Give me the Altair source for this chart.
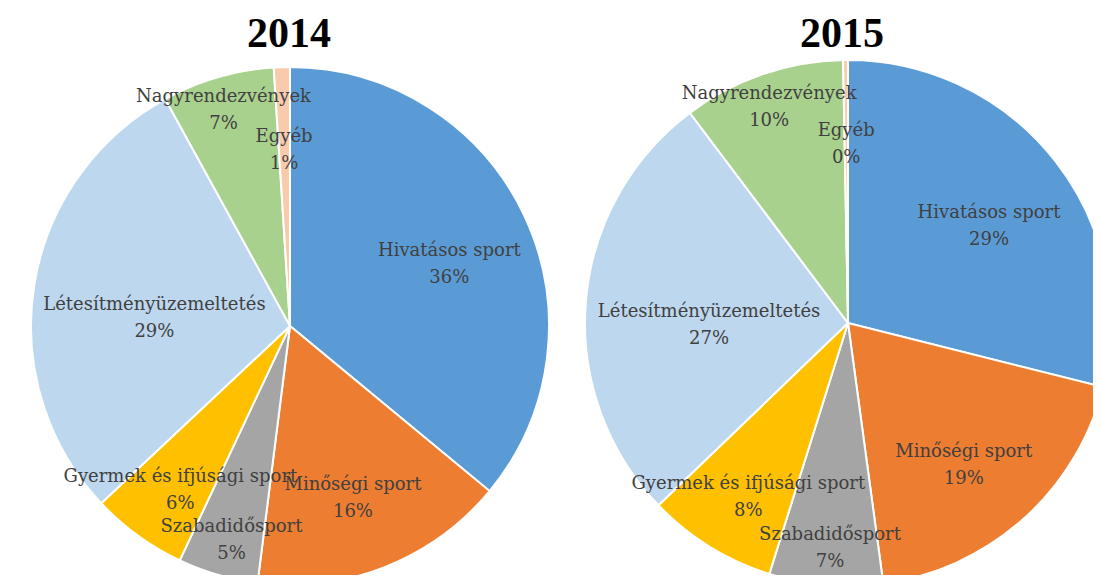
import altair as alt
import pandas as pd

# ---- data ----
YEARS = ["2014", "2015"]
CATEGORIES = [
    "Hivatásos sport",
    "Minőségi sport",
    "Szabadidősport",
    "Gyermek és ifjúsági sport",
    "Létesítményüzemeltetés",
    "Nagyrendezvények",
    "Egyéb",
]
SHARE_2014 = [36, 16, 5, 6, 29, 7, 1]
SHARE_2015 = [29, 19, 7, 8, 27, 10, 0.3]

# ---- styling ----
COLORS = ["#5B9BD5", "#ED7D31", "#A5A5A5", "#FFC000", "#BDD7EE", "#A9D18E", "#F8CBAD"]
LABEL_RADIUS = [0.68, 0.66, 0.81, 0.72, 0.53, 0.92, 0.73]  # fraction of pie radius

rows = []
for year, shares in zip(YEARS, [SHARE_2014, SHARE_2015]):
    for i, (c, v) in enumerate(zip(CATEGORIES, shares)):
        rows.append({"year": year, "category": c, "value": v, "idx": i, "frac": LABEL_RADIUS[i]})
df = pd.DataFrame(rows)
titles = pd.DataFrame({"year": YEARS})

W, H = 1085, 567
PIES = {"2014": (282, 318, 259), "2015": (840, 315, 263)}
TITLE_X = {"2014": 281, "2015": 834}

color = alt.Color("category:N", scale=alt.Scale(domain=CATEGORIES, range=COLORS), legend=None)


def pie(year):
    cx, cy, r = PIES[year]
    base = alt.Chart(df).transform_filter(alt.datum.year == year)
    arc = base.mark_arc(outerRadius=r, stroke="white", strokeWidth=2).encode(
        theta=alt.Theta("value:Q", stack=True),
        order=alt.Order("idx:Q"),
        color=color,
        x=alt.value(cx),
        y=alt.value(cy),
    )
    text = base.transform_window(
        cum="sum(value)", frame=[None, 0], sort=[alt.SortField("idx")]
    ).transform_calculate(
        mid="datum.cum - datum.value / 2",
        label="datum.category + '\\n' + format(datum.value, '.0f') + '%'",
        lr=f"datum.frac * {r}",
    ).mark_text(
        lineBreak="\n", lineHeight=27, font="DejaVu Serif", fontSize=18,
        color="#404040", align="center", baseline="middle",
    ).encode(
        theta=alt.Theta("mid:Q", stack=None),
        radius=alt.Radius("lr:Q", scale=None),
        text="label:N",
        x=alt.value(cx),
        y=alt.value(cy),
    )
    title = alt.Chart(titles).transform_filter(alt.datum.year == year).mark_text(
        font="Liberation Serif", fontSize=42, fontWeight="bold", color="black",
        align="center", baseline="alphabetic",
    ).encode(text="year:N", x=alt.value(TITLE_X[year]), y=alt.value(39))
    return alt.layer(arc, text, title)


chart = alt.layer(pie("2014"), pie("2015")).resolve_scale(theta="independent").properties(
    width=W, height=H, padding=0, autosize=alt.AutoSizeParams(type="none")
).configure_view(stroke=None)

chart.save("out.html", embed_options={"renderer": "svg", "actions": False})
